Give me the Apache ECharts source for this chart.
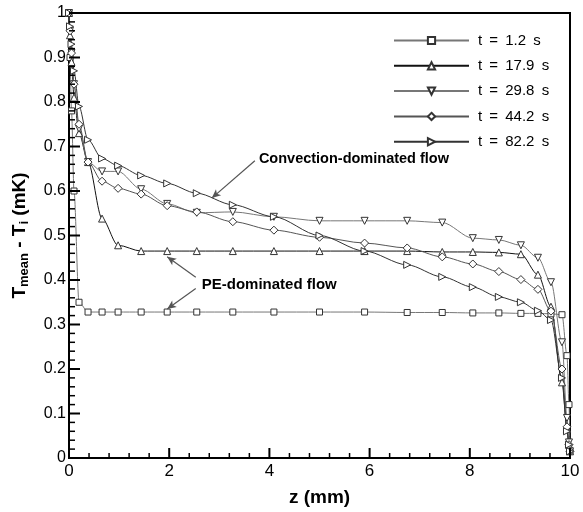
<!DOCTYPE html>
<html>
<head>
<meta charset="utf-8">
<script src="https://cdn.jsdelivr.net/npm/echarts@6/dist/echarts.min.js"></script>
<style>
  html, body { margin: 0; padding: 0; background: #fff; }
  #main { width: 583px; height: 512px; }
</style>
</head>
<body>
<div id="main"></div>
<script>
// z positions (mm) shared by all curves
const zGrid = [0, 0.02, 0.05, 0.1, 0.2, 0.38, 0.66, 0.98, 1.44, 1.96, 2.55, 3.27, 4.09, 5.0, 5.9, 6.75, 7.45, 8.06, 8.58, 9.02, 9.36, 9.62, 9.84, 9.94, 9.98, 10];

// Tmean - Ti (mK) for each time
const t1_2  = [1, 0.9, 0.78, 0.6, 0.35, 0.328, 0.328, 0.328, 0.328, 0.328, 0.328, 0.328, 0.328, 0.328, 0.328, 0.327, 0.327, 0.326, 0.326, 0.325, 0.325, 0.324, 0.322, 0.23, 0.12, 0.015];
const t17_9 = [1, 0.95, 0.89, 0.81, 0.73, 0.665, 0.538, 0.478, 0.465, 0.465, 0.465, 0.465, 0.465, 0.465, 0.465, 0.465, 0.463, 0.463, 0.462, 0.458, 0.412, 0.34, 0.17, 0.066, 0.03, 0.015];
const t29_8 = [1, 0.96, 0.91, 0.84, 0.74, 0.665, 0.644, 0.644, 0.604, 0.571, 0.551, 0.553, 0.542, 0.533, 0.533, 0.533, 0.529, 0.494, 0.49, 0.478, 0.45, 0.395, 0.26, 0.09, 0.035, 0.015];
const t44_2 = [1, 0.96, 0.91, 0.84, 0.75, 0.665, 0.622, 0.606, 0.593, 0.567, 0.553, 0.531, 0.512, 0.496, 0.483, 0.472, 0.452, 0.436, 0.419, 0.401, 0.379, 0.33, 0.2, 0.07, 0.03, 0.015];
const t82_2 = [1, 0.97, 0.93, 0.87, 0.79, 0.715, 0.673, 0.657, 0.635, 0.617, 0.595, 0.569, 0.542, 0.5, 0.465, 0.434, 0.407, 0.384, 0.362, 0.35, 0.331, 0.31, 0.18, 0.06, 0.03, 0.015];

const seriesNames = ['t = 1.2 s', 't = 17.9 s', 't = 29.8 s', 't = 44.2 s', 't = 82.2 s'];

// tick positions
const xMajor = [0, 2, 4, 6, 8, 10];
const yMajor = [0, 0.1, 0.2, 0.3, 0.4, 0.5, 0.6, 0.7, 0.8, 0.9, 1];
const xMinor = [];
for (let i = 0; i <= 25; i++) if (i % 5) xMinor.push(+(i * 0.4).toFixed(2));
const yMinor = [];
for (let i = 0; i <= 50; i++) if (i % 5) yMinor.push(+(i * 0.02).toFixed(2));

// annotation anchors in data units
const convText = [3.79, 0.672];
const peText = [2.65, 0.39];
const arrows = [
  [[3.71, 0.668], [2.85, 0.584]],
  [[2.53, 0.406], [1.96, 0.452]],
  [[2.53, 0.381], [1.96, 0.335]]
];

const downTri = 'path://M0,0 L10,0 L5,9 Z';
const rightTri = 'path://M0,0 L9,5 L0,10 Z';
const font = 'Liberation Sans, Arial';

function curve(name, vals, symbol, size, color) {
  return {
    name: name,
    type: 'line',
    data: zGrid.map(function (z, i) { return [z, vals[i]]; }),
    symbol: symbol,
    symbolSize: size,
    showAllSymbol: true,
    smooth: 0.3,
    smoothMonotone: 'x',
    lineStyle: { color: color, width: 1 },
    itemStyle: { color: '#fff', borderColor: '#333', borderWidth: 1 }
  };
}

let chart = echarts.init(document.getElementById('main'), null, { renderer: 'canvas' });

let option = {
  animation: false,
  backgroundColor: '#fff',
  grid: { left: 69, right: 13, top: 13, bottom: 45, show: true, borderColor: '#000', borderWidth: 2, backgroundColor: 'transparent' },
  legend: {
    orient: 'vertical',
    left: 388,
    top: 28,
    itemWidth: 75,
    itemHeight: 9,
    itemGap: 10.3,
    data: seriesNames,
    formatter: function (n) { return n.replace(/ /g, ' \u2009'); },
    textStyle: { fontFamily: font, fontSize: 15, color: '#000', padding: [0, 0, 0, 4] }
  },
  xAxis: {
    type: 'value',
    min: 0, max: 10, interval: 2,
    name: 'z (mm)',
    nameLocation: 'middle',
    nameGap: 30,
    nameTextStyle: { fontFamily: font, fontWeight: 'bold', fontSize: 19, color: '#000' },
    axisLine: { show: true, onZero: false, lineStyle: { color: '#000', width: 2 } },
    axisTick: { show: false },
    minorTick: { show: false },
    splitLine: { show: false },
    axisLabel: { fontFamily: font, fontSize: 17, color: '#000', margin: 5 }
  },
  yAxis: {
    type: 'value',
    min: 0, max: 1, interval: 0.1,
    name: 'T{sub|mean} - T{sub|i} (mK)',
    nameLocation: 'middle',
    nameRotate: 90,
    nameGap: 38,
    nameTextStyle: {
      fontFamily: font, fontWeight: 'bold', fontSize: 19, color: '#000',
      rich: {
        sub: { fontFamily: font, fontWeight: 'bold', fontSize: 13, color: '#000', verticalAlign: 'bottom', padding: [9, 0, 0, 0] }
      }
    },
    axisLine: { show: true, onZero: false, lineStyle: { color: '#000', width: 2 } },
    axisTick: { show: false },
    minorTick: { show: false },
    splitLine: { show: false },
    axisLabel: {
      fontFamily: font, fontSize: 16, color: '#000', margin: 3,
      formatter: function (v) {
        if (Math.abs(v) < 1e-9) return '0';
        if (Math.abs(v - 1) < 1e-9) return '1';
        return v.toFixed(1);
      }
    }
  },
  series: [
    curve(seriesNames[0], t1_2, 'rect', 6, '#777'),
    curve(seriesNames[1], t17_9, 'triangle', 7, '#111'),
    curve(seriesNames[2], t29_8, downTri, 7, '#777'),
    curve(seriesNames[3], t44_2, 'diamond', 8, '#555'),
    curve(seriesNames[4], t82_2, rightTri, 7, '#333'),
    {
      type: 'line',
      data: [],
      silent: true,
      markLine: {
        silent: true,
        symbol: ['none', 'arrow'],
        symbolSize: [6, 9],
        label: { show: false },
        lineStyle: { color: '#555', width: 1.2, type: 'solid' },
        data: arrows.map(function (a) { return [{ coord: a[0] }, { coord: a[1] }]; })
      }
    }
  ]
};

chart.setOption(option);

// inward ticks placed through the axis scales
let marks = [];
function addTicks(vals, dir, len, w) {
  vals.forEach(function (v) {
    let p = chart.convertToPixel({ gridIndex: 0 }, dir === 'x' ? [v, 0] : [0, v]);
    let shape = dir === 'x'
      ? { x1: p[0], y1: p[1], x2: p[0], y2: p[1] - len }
      : { x1: p[0], y1: p[1], x2: p[0] + len, y2: p[1] };
    marks.push({ type: 'line', z: 100, silent: true, shape: shape, style: { stroke: '#000', lineWidth: w } });
  });
}
addTicks(xMajor, 'x', 10, 2);
addTicks(xMinor, 'x', 5, 1.5);
addTicks(yMajor, 'y', 11, 2);
addTicks(yMinor, 'y', 6, 1.5);

let pConv = chart.convertToPixel({ gridIndex: 0 }, convText);
let pPe = chart.convertToPixel({ gridIndex: 0 }, peText);
marks.push({ type: 'text', x: pConv[0], y: pConv[1], style: { text: 'Convection-dominated flow', fontFamily: font, fontWeight: 'bold', fontSize: 14.5, fill: '#000', textAlign: 'left', textVerticalAlign: 'middle' } });
marks.push({ type: 'text', x: pPe[0], y: pPe[1], style: { text: 'PE-dominated flow', fontFamily: font, fontWeight: 'bold', fontSize: 15, fill: '#000', textAlign: 'left', textVerticalAlign: 'middle' } });

chart.setOption({ graphic: marks });
</script>
</body>
</html>
